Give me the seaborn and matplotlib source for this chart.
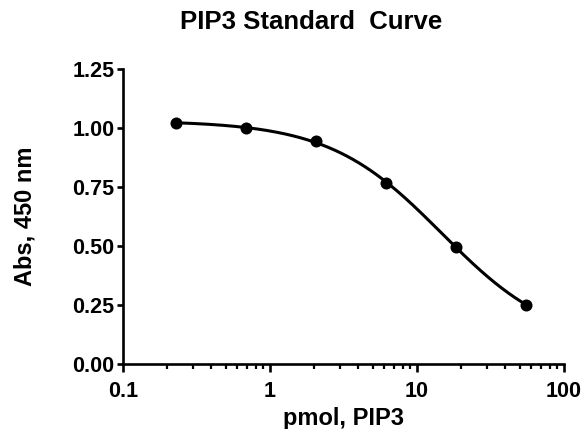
import matplotlib
matplotlib.use("Agg")
import matplotlib.pyplot as plt
import seaborn as sns
import numpy as np
import pandas as pd

# standard points
pmol = [0.229, 0.686, 2.06, 6.17, 18.5, 55.6]
absorbance = [1.02, 1.00, 0.945, 0.765, 0.495, 0.25]

title = "PIP3 Standard  Curve"
xlabel = "pmol, PIP3"
ylabel = "Abs, 450 nm"
yticks = [0.00, 0.25, 0.50, 0.75, 1.00, 1.25]
xticks = [0.1, 1, 10, 100]
xticklabels = ["0.1", "1", "10", "100"]


def fit_4pl(x, y):
    """Ajustement logistique 4 paramètres (recherche sur grille + moindres carrés)"""
    x = np.asarray(x)
    y = np.asarray(y)
    best = None
    for log_ec in np.linspace(0, 2, 201):
        for hill in np.linspace(0.5, 2.5, 201):
            s = 1.0 / (1.0 + (x / 10 ** log_ec) ** hill)
            A = np.column_stack([np.ones_like(s), s])
            coef, *_ = np.linalg.lstsq(A, y, rcond=None)
            err = np.sum((A @ coef - y) ** 2)
            if best is None or err < best[0]:
                best = (err, coef[0], coef[0] + coef[1], 10 ** log_ec, hill)
    return best[1:]


bottom, top, ec50, hill = fit_4pl(pmol, absorbance)
x_fit = np.logspace(np.log10(pmol[0]), np.log10(pmol[-1]), 300)
y_fit = bottom + (top - bottom) / (1 + (x_fit / ec50) ** hill)

df_pts = pd.DataFrame({"pmol": pmol, "abs": absorbance})
df_fit = pd.DataFrame({"pmol": x_fit, "abs": y_fit})

sns.set_theme(style="ticks")
plt.rcParams["font.family"] = ["Liberation Sans", "DejaVu Sans"]
plt.rcParams["font.weight"] = "bold"
plt.rcParams["text.color"] = "black"
plt.rcParams["axes.labelcolor"] = "black"

fig = plt.figure(figsize=(5.85, 4.29), dpi=100)
ax = fig.add_axes([0.210, 0.1515, 0.754, 0.688])

sns.lineplot(data=df_fit, x="pmol", y="abs", color="black", linewidth=2.2, ax=ax)
sns.scatterplot(data=df_pts, x="pmol", y="abs", color="black", s=75,
                edgecolor="black", linewidth=0, ax=ax, zorder=3, clip_on=False)

ax.set_xscale("log")
ax.set_xlim(0.1, 100)
ax.set_ylim(0, 1.25)
ax.set_xticks(xticks)
ax.set_xticklabels(xticklabels)
ax.set_yticks(yticks)
ax.set_yticklabels([f"{v:.2f}" for v in yticks])

for side in ["top", "right"]:
    ax.spines[side].set_visible(False)
for side in ["left", "bottom"]:
    ax.spines[side].set_linewidth(1.9)
    ax.spines[side].set_color("black")

ax.tick_params(axis="x", which="major", length=6, width=1.9, colors="black",
               labelsize=15.5, pad=6)
ax.tick_params(axis="y", which="major", length=4, width=1.9, colors="black",
               labelsize=15.5, pad=2)
ax.tick_params(axis="x", which="minor", length=3.5, width=1.6, colors="black")
for lab in ax.get_xticklabels() + ax.get_yticklabels():
    lab.set_fontweight("bold")

ax.set_xlabel(xlabel, fontsize=17, fontweight="bold", va="center")
ax.set_ylabel(ylabel, fontsize=17, fontweight="bold", va="center")
ax.xaxis.set_label_coords(0.5, -0.183)
ax.yaxis.set_label_coords(-0.222, 0.5)

fig.text(180 / 585, 1 - 22 / 429, title, fontsize=18.5, fontweight="bold",
         ha="left", va="center")

fig.savefig("out.png", dpi=100)
plt.close(fig)
